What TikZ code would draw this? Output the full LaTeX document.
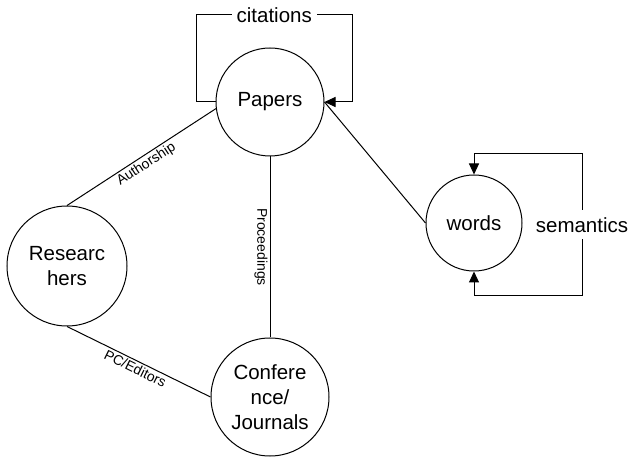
\documentclass[tikz,border=0pt]{standalone}
\usepackage{fontspec}
\setmainfont{Liberation Sans}
\usetikzlibrary{arrows.meta}

\begin{document}
\begin{tikzpicture}[
    x = 1pt, y = 1pt,
    entity/.style={draw, circle, line width=1pt, inner sep=0pt, align=center, font=\fontsize{20.5}{25}\selectfont},
    link/.style={line width=1pt},
    arrow/.style={-{Triangle[length=11pt, width=10pt]}, line width=1pt},
    twoway/.style={{Triangle[length=11pt, width=10pt]}-{Triangle[length=11pt, width=10pt]}, line width=1pt},
    edgelabel/.style={font=\fontsize{14}{16}\selectfont, inner sep=2pt},
    looplabel/.style={fill=white, inner xsep=5pt, inner ysep=7pt, font=\fontsize{20.5}{25}\selectfont}
]
    \useasboundingbox (0, 0) rectangle (629, 458);

    % Papers
    \node (papers) at (270, 356) [entity, minimum size=108pt] {Papers};

    % Researchers
    \node (researchers) at (67, 192) [entity, minimum size=120pt] {Researc\\hers};

    % Conference/Journals
    \node (conference) at (270, 61) [entity, minimum size=118pt] {Confere\\nce/\\Journals};

    % Words
    \node (words) at (474, 235) [entity, minimum size=96pt] {words};

    % Links
    \draw[link] (researchers.north) -- (papers.187) node (authorship) [midway, below, sloped, edgelabel] {Authorship};
    \draw[link] (papers.south) -- (conference.north) node (proceedings) [midway, rotate=-90, below, edgelabel] {Proceedings};
    \draw[link] (researchers.south) -- (conference.west) node (pceditors) [midway, below, sloped, edgelabel] {PC/Editors};
    \draw[link] (words.west) -- (papers.east);

    % Loops
    \draw[arrow] (papers.west) -- ++(-19, 0) |- (352, 443) node (citations) [pos=0.75, looplabel] {citations} |- (papers.east);
    \draw[twoway] (words.north) -- ++(0, 21) -| (582, 162) node (semantics) [pos=0.75, looplabel] {semantics} -| (words.south);
\end{tikzpicture}
\end{document}
